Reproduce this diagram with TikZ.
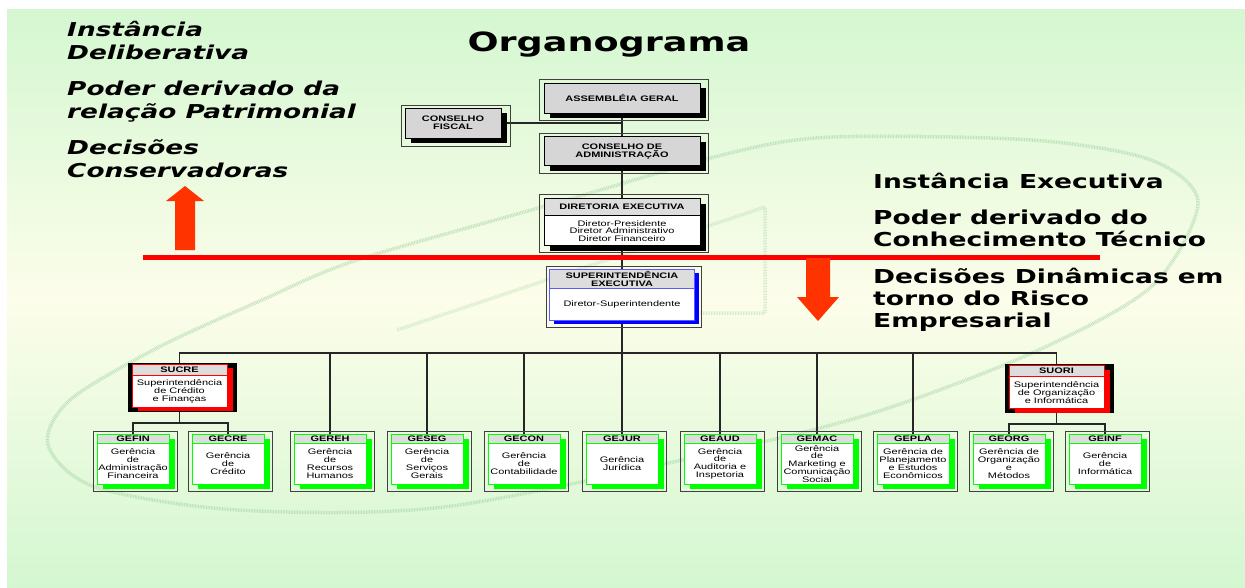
\documentclass[tikz,border=0pt]{standalone}
\usepackage{fontspec}
\setmainfont{Liberation Sans}[FakeStretch=1.37]
\newfontfamily\comicfont{DejaVu Sans}[FakeStretch=1.38]
\usetikzlibrary{calc,positioning,shadows,backgrounds}

\definecolor{bggreen}{RGB}{212,247,209}
\definecolor{bgcream}{RGB}{252,253,234}
\definecolor{hdrgray}{RGB}{221,221,221}
\definecolor{topgray}{RGB}{214,214,214}
\definecolor{arroworange}{RGB}{255,51,0}
\definecolor{swirlgreen}{RGB}{160,210,160}
\definecolor{shgreen}{RGB}{0,255,0}
\definecolor{shblue}{RGB}{0,0,255}
\definecolor{seblue}{RGB}{90,90,255}

% one gerencia box: name, x, code, text
\newcommand{\gerencia}[4]{%
  \node[gbox] (#1) at (#2,-459) {};
  \node[ghead] (#1-h) at (#1.north) {#3};
  \node[txt] (#1-t) at ($(#1.south)!0.5!(#1-h.south)$) {#4};
  \draw[frame] ($(#1.north west)+(-3,2)$) rectangle ($(#1.south east)+(8,-7)$);
}

\begin{document}
\begin{tikzpicture}[x=1pt, y=1pt,
    txt/.style={font=\fontsize{8}{7.8}\selectfont, align=center, inner sep=0pt},
    frame/.style={draw=black!75, line width=0.8pt},
    conn/.style={draw=black!85, line width=1.1pt},
    swirl/.style={draw=swirlgreen, line width=3.5pt, dash pattern=on .8pt off .8pt, opacity=.6},
    topbox/.style={txt, font=\fontsize{8}{7.8}\selectfont\bfseries, draw=black, line width=0.8pt, fill=topgray,
        minimum width=156, minimum height=30, drop shadow={shadow xshift=6pt, shadow yshift=-5pt, fill=black, opacity=1}},
    gbox/.style={draw=shgreen, line width=0.6pt, fill=white, minimum width=72, minimum height=50, inner sep=0pt,
        drop shadow={shadow xshift=6pt, shadow yshift=-5pt, fill=shgreen, opacity=1}},
    ghead/.style={txt, font=\fontsize{8}{7.8}\selectfont\bfseries, draw=shgreen, line width=0.6pt, fill=hdrgray,
        minimum width=72, minimum height=9, anchor=north},
    subox/.style={draw=red, line width=0.6pt, fill=white, minimum width=95, minimum height=43, inner sep=0pt,
        general shadow={fill=black, opacity=1, shadow xshift=2.5pt, shadow yshift=-1.5pt, shadow scale=1.15},
        drop shadow={shadow xshift=5.5pt, shadow yshift=-4pt, fill=red, opacity=1}},
    suhead/.style={txt, font=\fontsize{8}{7.8}\selectfont\bfseries, draw=red, line width=0.6pt, fill=hdrgray,
        minimum width=95, minimum height=11, anchor=north},
    lefttxt/.style={font=\comicfont\bfseries\itshape\fontsize{19.1}{23}\selectfont, align=left, anchor=base west, inner sep=0pt},
    righttxt/.style={font=\comicfont\bfseries\fontsize{19.2}{22}\selectfont, align=left, anchor=base west, inner sep=0pt}
]
\useasboundingbox (0,0) rectangle (1245,-587);
\begin{scope}[on background layer]
    \shade[top color=bggreen, bottom color=bggreen, middle color=bgcream] (7,-9) rectangle (1245,-587);
    \draw[swirl] plot[smooth cycle] coordinates {(159,-347) (70,-400) (48,-445) (95,-487) (238,-510) (444,-507)
        (714,-453) (873,-413) (1032,-353) (1151,-287) (1198,-203) (1151,-160) (1032,-140) (833,-137) (730,-153)
        (556,-203) (357,-260) (262,-300)};
    \draw[swirl, opacity=.4] (397,-330) -- (765,-207) -- (765,-313) -- (700,-313);
\end{scope}

% texts
\node[font=\comicfont\bfseries\fontsize{26.5}{30}\selectfont, anchor=base, inner sep=0pt] (title) at (609,-51) {Organograma};
\node[lefttxt] (delib) at (67,-59) {Instância\\Deliberativa};
\node[lefttxt] (patrim) at (67,-118) {Poder derivado da\\relação Patrimonial};
\node[lefttxt] (conserv) at (67,-177) {Decisões\\Conservadoras};
\node[righttxt] (exec) at (873,-188) {Instância Executiva};
\node[righttxt] (tecnico) at (873,-246) {Poder derivado do\\Conhecimento Técnico};
\node[righttxt] (risco) at (873,-327) {Decisões Dinâmicas em\\torno do Risco\\Empresarial};

% red divider and arrows
\draw[red, line width=5pt] (143,-257) -- (1100,-257);
\fill[arroworange] (175,-250) -- (175,-201) -- (166,-201) -- (185,-186) -- (204,-201) -- (195,-201) -- (195,-250) -- cycle;
\fill[arroworange] (806,-258) -- (806,-297) -- (797,-297) -- (818,-321) -- (839,-297) -- (830,-297) -- (830,-258) -- cycle;

% deliberative boxes
\node[topbox] (ag) at (622,-98) {ASSEMBLÉIA GERAL};
\node[topbox, minimum width=96] (cf) at (453,-123) {CONSELHO\\FISCAL};
\node[topbox, minimum height=29, below=23pt of ag] (ca) {CONSELHO DE\\ADMINISTRAÇÃO};
\draw[frame] ($(ag.north west)+(-4,3)$) rectangle ($(ag.south east)+(8,-7)$);
\draw[frame] ($(cf.north west)+(-3,2)$) rectangle ($(cf.south east)+(9,-8)$);
\draw[frame] ($(ca.north west)+(-4,3)$) rectangle ($(ca.south east)+(8,-7)$);

\node[draw=black, line width=0.8pt, fill=white, minimum width=156, minimum height=47, inner sep=0pt, below=32pt of ca,
    drop shadow={shadow xshift=6pt, shadow yshift=-5pt, fill=black, opacity=1}] (de) {};
\node[txt, font=\fontsize{8}{7.8}\selectfont\bfseries, draw=black, line width=0.8pt, fill=hdrgray,
    minimum width=156, minimum height=17, anchor=north] (de-h) at (de.north) {DIRETORIA EXECUTIVA};
\node[txt] (de-t) at ($(de.south)!0.5!(de-h.south)$) {Diretor-Presidente\\Diretor Administrativo\\Diretor Financeiro};
\draw[frame] ($(de.north west)+(-4,4)$) rectangle ($(de.south east)+(8,-6)$);

% executive boxes
\node[draw=seblue, line width=0.8pt, fill=white, minimum width=145, minimum height=51, inner sep=0pt, below=23pt of de,
    drop shadow={shadow xshift=4pt, shadow yshift=-4pt, fill=shblue, opacity=1}] (se) {};
\node[txt, font=\fontsize{8}{7.8}\selectfont\bfseries, draw=seblue, line width=0.8pt, fill=hdrgray,
    minimum width=145, minimum height=19, anchor=north] (se-h) at (se.north) {SUPERINTENDÊNCIA\\EXECUTIVA};
\node[txt] (se-t) at ($(se.south)!0.5!(se-h.south)$) {Diretor-Superintendente};
\draw[frame] ($(se.north west)+(-3,3)$) rectangle ($(se.south east)+(6,-7)$);

\node[subox] (sucre) at (179.5,-385.5) {};
\node[suhead] (sucre-h) at (sucre.north) {SUCRE};
\node[txt] (sucre-t) at ($(sucre.south)!0.5!(sucre-h.south)$) {Superintendência\\de Crédito\\e Finanças};
\node[subox] (suori) at (1056.5,-387) {};
\node[suhead] (suori-h) at (suori.north) {SUORI};
\node[txt] (suori-t) at ($(suori.south)!0.5!(suori-h.south)$) {Superintendência\\de Organização\\e Informática};

\gerencia{gefin}{133}{GEFIN}{Gerência\\de\\Administração\\Financeira}
\gerencia{gecre}{228}{GECRE}{Gerência\\de\\Crédito}
\gerencia{gereh}{330}{GEREH}{Gerência\\de\\Recursos\\Humanos}
\gerencia{geseg}{427}{GESEG}{Gerência\\de\\Serviços\\Gerais}
\gerencia{gecon}{524}{GECON}{Gerência\\de\\Contabilidade}
\gerencia{gejur}{622}{GEJUR}{Gerência\\Jurídica}
\gerencia{geaud}{720}{GEAUD}{Gerência\\de\\Auditoria e\\Inspetoria}
\gerencia{gemac}{817}{GEMAC}{Gerência\\de\\Marketing e\\Comunicação\\Social}
\gerencia{gepla}{913}{GEPLA}{Gerência de\\Planejamento\\e Estudos\\Econômicos}
\gerencia{georg}{1009}{GEORG}{Gerência de\\Organização\\e\\Métodos}
\gerencia{geinf}{1105}{GEINF}{Gerência\\de\\Informática}

% connectors
\coordinate (bus) at (622,-353);
\coordinate (sucrej) at (179.5,-423);
\coordinate (suorij) at (1056.5,-424);
\begin{scope}[on background layer]
    \draw[conn] (ag.south) -- (ca.north);
    \draw[conn] (cf.east) -- (cf.east -| ag.south);
    \draw[conn] (ca.south) -- (de.north);
    \draw[conn] (de.south) -- (se.north);
    \draw[conn] (se.south) -- (gejur.north);
    \draw[conn] (sucre.north) |- (bus) -| (suori.north);
    \draw[conn] (gereh.north) -- (gereh.north |- bus);
    \draw[conn] (geseg.north) -- (geseg.north |- bus);
    \draw[conn] (gecon.north) -- (gecon.north |- bus);
    \draw[conn] (geaud.north) -- (geaud.north |- bus);
    \draw[conn] (gemac.north) -- (gemac.north |- bus);
    \draw[conn] (gepla.north) -- (gepla.north |- bus);
    \draw[conn] (sucre.south) -- (sucrej);
    \draw[conn] (gefin.north) |- (sucrej) -| (gecre.north);
    \draw[conn] (suori.south) -- (suorij);
    \draw[conn] (georg.north) |- (suorij) -| (geinf.north);
\end{scope}
\end{tikzpicture}
\end{document}
